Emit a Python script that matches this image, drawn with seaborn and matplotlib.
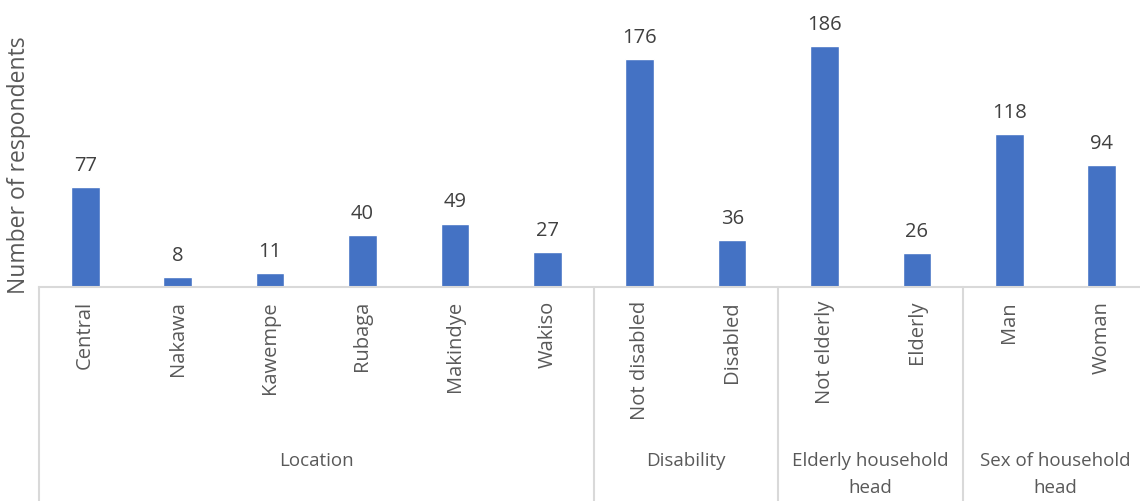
import pandas as pd
import seaborn as sns
import matplotlib.pyplot as plt
from matplotlib.transforms import blended_transform_factory

# Values
categories = ["Central", "Nakawa", "Kawempe", "Rubaga", "Makindye", "Wakiso",
              "Not disabled", "Disabled", "Not elderly", "Elderly", "Man", "Woman"]
respondents = [77, 8, 11, 40, 49, 27, 176, 36, 186, 26, 118, 94]
groups = ["Location", "Disability", "Elderly household\nhead", "Sex of household\nhead"]
group_sizes = [6, 2, 2, 2]

df = pd.DataFrame({"category": categories, "respondents": respondents})

sns.set_style("white")
plt.rcParams["font.family"] = ["Open Sans", "DejaVu Sans"]
text_color = "#595959"
line_color = "#D9D9D9"

fig = plt.figure(figsize=(11.4, 5.01), dpi=100)
ax = fig.add_axes([39 / 1140, 214 / 501, 1109 / 1140, 287 / 501])

sns.barplot(data=df, x="category", y="respondents", color="#4472C4",
            width=0.31, saturation=1, ax=ax)
ax.bar_label(ax.containers[0], padding=8, fontsize=14.5, color="#404040")

ax.set_ylim(0, 221.5)
ax.set_xlim(-0.5, len(categories) - 0.5)
ax.set_yticks([])
ax.set_xlabel("")
ax.set_ylabel("Number of respondents", fontsize=16.5, color=text_color)
ax.yaxis.set_label_coords(-8 / 1109, 0.425)
ax.tick_params(axis="x", length=0, pad=10, labelsize=14.5, labelcolor=text_color)
plt.setp(ax.get_xticklabels(), rotation=90, va="top")

for side in ["top", "right", "left"]:
    ax.spines[side].set_visible(False)
ax.spines["bottom"].set_color(line_color)
ax.spines["bottom"].set_linewidth(1.5)

# Multi-level category axis: separators and group labels
trans = blended_transform_factory(ax.transData, ax.transAxes)
start = -0.5
bottom = -214 / 287
ax.plot([start, start], [0, bottom], transform=trans, color=line_color,
        lw=1.5, clip_on=False)
for name, size in zip(groups, group_sizes):
    end = start + size
    ax.plot([end, end], [0, bottom], transform=trans, color=line_color,
            lw=1.5, clip_on=False)
    ax.text((start + end) / 2, -165 / 287, name, transform=trans, ha="center",
            va="top", fontsize=13.5, color=text_color, linespacing=1.65)
    start = end

fig.savefig("out.png", dpi=100)
